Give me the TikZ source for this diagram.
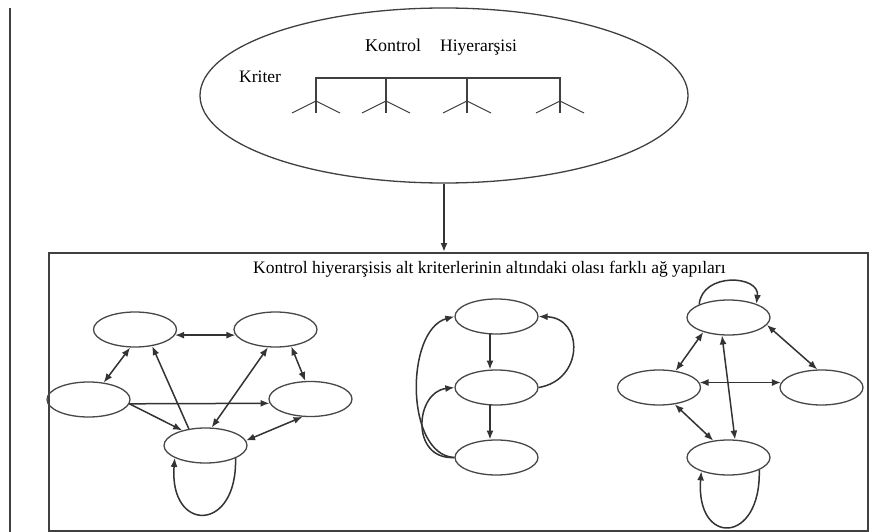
\documentclass[tikz,border=0pt]{standalone}
\usepackage{fontspec}
\setmainfont{Liberation Serif}
\usetikzlibrary{shapes.geometric,arrows.meta}
\begin{document}
\begin{tikzpicture}[x=1pt,y=-1pt,
  oval/.style={ellipse,draw=black!72,line width=1.3pt,minimum width=83pt,minimum height=35pt,inner sep=0pt},
  con/.style={draw=black!80,line width=1.5pt},
  tip/.style={-{Latex[length=9pt,width=7pt]}},
  both/.style={{Latex[length=9pt,width=7pt]}-{Latex[length=9pt,width=7pt]}},
  lbl/.style={inner sep=0pt,anchor=base west,font=\fontsize{17.5}{20}\selectfont},
  tree/.style={draw=black!75,line width=1.4pt}
]
\useasboundingbox (0,0) rectangle (869,532);
\fill[white] (0,0) rectangle (869,532);
% left margin line
\coordinate (lt) at (10,8);
\coordinate (lb) at (10,532);
\draw[draw=black!75,line width=2pt] (lt) -- (lb);

% top ellipse
\node[ellipse,draw=black!75,line width=1.3pt,minimum width=488pt,minimum height=175pt,inner sep=0pt] (crit) at (444,95.5) {};
\node[lbl,font=\fontsize{18}{20}\selectfont] (t1) at (365,52) {Kontrol};
\node[lbl] (t2) at (440,52) {Hiyerarşisi};
\node[lbl] (t3) at (239,83) {Kriter};

% tree
\draw[tree] (316,101) -- (316,78) -- (560,78) -- (560,101);
\draw[tree] (386,78) -- (386,101);
\draw[tree] (467,78) -- (467,101);
\foreach \x in {316,386,467,560}{
  \draw[tree] (\x,101) -- (\x,113);
  \draw[tree,line width=1.1pt] (\x-24,113) -- (\x,101) -- (\x+24,113);
}

% box
\node[draw=black!75,line width=1.5pt,minimum width=819pt,minimum height=278pt,inner sep=0pt,anchor=north west] (box) at (48,252) {};
\draw[con,line width=2.2pt,-{Latex[length=9pt,width=7pt]}] (crit.south) -- (crit.south |- box.north);
\node[lbl,font=\fontsize{17.5}{20}\selectfont] (title) at (253,273) {Kontrol hiyerarşisis alt kriterlerinin altındaki olası farklı ağ yapıları};

% left graph
\node[oval] (A) at (135,329.5) {};
\node[oval] (B) at (275.5,329.5) {};
\node[oval] (C) at (88.5,399.5) {};
\node[oval] (D) at (310.5,399) {};
\node[oval] (E) at (205.5,445.5) {};
\draw[con,both] (A.-8) -- (B.188);
\draw[con,both] (A.-105) -- (C.48);
\draw[con,tip] (E.135) -- (A.-44);
\draw[con,both] (B.-113) -- (E.71);
\draw[con,both] (B.-47) -- (D.106);
\draw[con,tip] (C.-6) -- (D.186);
\draw[con,tip] (C.-6) -- (E.147);
\draw[con,both] (E.7) -- (D.-114);
\draw[con,tip] (E.-23) .. controls +(2,75) and +(-6,75) .. (E.-158);

% middle graph
\node[oval] (F) at (496.5,316.5) {};
\node[oval] (G) at (496.5,387.5) {};
\node[oval] (H) at (496.5,457.5) {};
\draw[con,tip] (F.-110) -- (G.110);
\draw[con,tip] (G.-110) -- (H.110);
\draw[con,tip] (G.east) .. controls (584,380) and (584,318) .. (F.east);
\draw[con,tip] (H.west) .. controls (405,455) and (405,330) .. (F.west);
\draw[con,tip] (H.west) .. controls (410,460) and (415,392) .. (G.west);

% right graph
\node[oval] (I) at (728.5,317.5) {};
\node[oval] (J) at (659,387.5) {};
\node[oval] (K) at (821.5,387.5) {};
\node[oval] (L) at (728.5,457.5) {};
\draw[con,tip] (I.156) .. controls (702,272) and (760,275) .. (I.26);
\draw[con,both] (I.-150) -- (J.45);
\draw[con,both] (I.-11) -- (K.103);
\draw[con,both] (J.7) -- (K.173);
\draw[con,both] (I.-110) -- (L.70);
\draw[con,both] (J.-47) -- (L.132);
\draw[con,tip] (L.-22) .. controls +(2,75) and +(-6,75) .. (L.-153);
\end{tikzpicture}
\end{document}
